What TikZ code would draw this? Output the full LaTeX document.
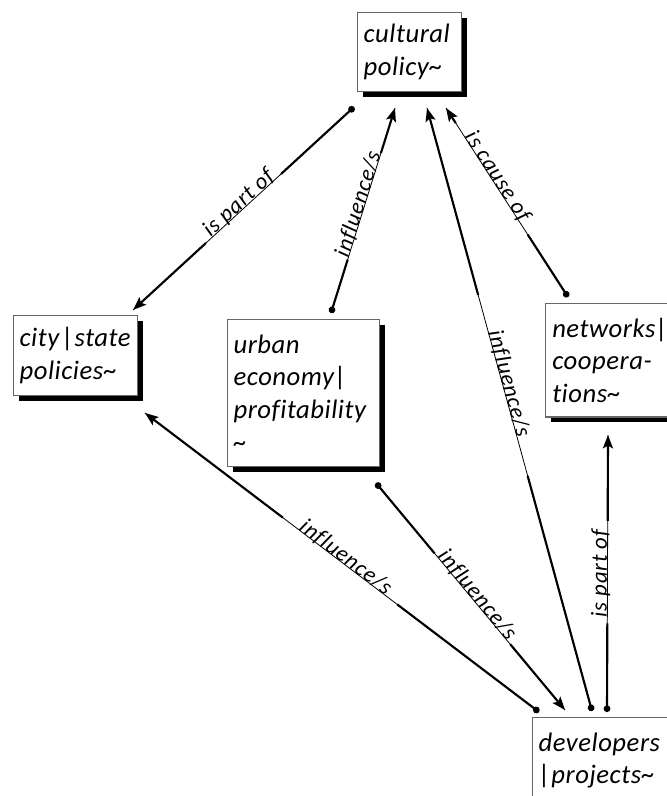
\documentclass[tikz,border=0pt]{standalone}
\usepackage{fontspec}
\setmainfont{Carlito}[Ligatures={NoCommon}]
\newfontfamily\boxfont{Carlito}[Ligatures={NoCommon},LetterSpace=2]
\newfontfamily\lblfont{Carlito}[Ligatures={NoCommon},LetterSpace=4]
\usetikzlibrary{arrows.meta,shadows,calc}
\tikzset{
  box/.style={draw=black!60, line width=0.9pt, fill=white, anchor=north west,
    inner sep=4.5pt, align=left, font=\boxfont\fontsize{20}{24.5}\selectfont\itshape,
    drop shadow={shadow xshift=4pt, shadow yshift=-4pt, fill=black, opacity=1}},
  thinln/.style={line width=0.6pt},
  thickln/.style={line width=1.6pt},
  lbl/.style={sloped, above=-2.5pt, inner sep=0pt, font=\lblfont\fontsize{17}{19}\selectfont\itshape},
  tipend/.style={-{Stealth[length=10pt,width=7.5pt,inset=2pt]}},
  dotstart/.style={{Circle[length=5pt]}-}
}
\newcommand\lnk[6]{%
  \draw[thinln] (#1) -- (#2) node[lbl,pos=#5]{#6};
  \draw[thickln,dotstart] (#1) -- ($(#1)!#3!(#2)$);
  \draw[thickln,tipend] ($(#1)!#4!(#2)$) -- (#2);
}
\begin{document}
\begin{tikzpicture}[x=0.75pt,y=-0.75pt]
\useasboundingbox (0,0) rectangle (667,796);
% boxes
\node[box, minimum width=78pt, minimum height=59pt, text width=69pt] (cult) at (357,12) {cultural\\policy\textasciitilde};
\node[box, minimum width=91.5pt, minimum height=60pt, text width=84pt] (city) at (13,315) {city\kern2pt|state\\policies\textasciitilde};
\node[box, minimum width=112.5pt, minimum height=110pt, text width=105pt] (urban) at (227,319) {urban\\economy|\\profitability\\\textasciitilde};
\node[box, minimum width=110pt, minimum height=85pt, text width=100pt] (net) at (545,303) {networks|\\coopera-\\tions\textasciitilde};
\node[box, minimum width=112pt, minimum height=64.5pt, text width=103pt] (dev) at (532,717) {developers\\|projects\textasciitilde};
% connector end points
\coordinate (c1) at (354,107);
\coordinate (c2) at (395,108);
\coordinate (c3) at (427,108);
\coordinate (c4) at (446,108);
\coordinate (y1) at (133,310);
\coordinate (y2) at (145,413);
\coordinate (u1) at (331,313);
\coordinate (u2) at (376,483);
\coordinate (n1) at (568,297);
\coordinate (n2) at (608,435);
\coordinate (d1) at (539,712);
\coordinate (d2) at (565,710);
\coordinate (d3) at (592,711);
\coordinate (d4) at (607,712);
% connectors
\lnk{c1}{y1}{0.33}{0.67}{0.5}{is part of}
\lnk{u1}{c2}{0.26}{0.78}{0.52}{influence/s}
\lnk{d3}{c3}{0.39}{0.69}{0.54}{influence/s}
\lnk{n1}{c4}{0.33}{0.92}{0.62}{is cause of}
\lnk{d1}{y2}{0.36}{0.65}{0.5}{influence/s}
\lnk{u2}{d2}{0.31}{0.71}{0.51}{influence/s}
\lnk{d4}{n2}{0.32}{0.69}{0.5}{is part of}
\end{tikzpicture}
\end{document}
